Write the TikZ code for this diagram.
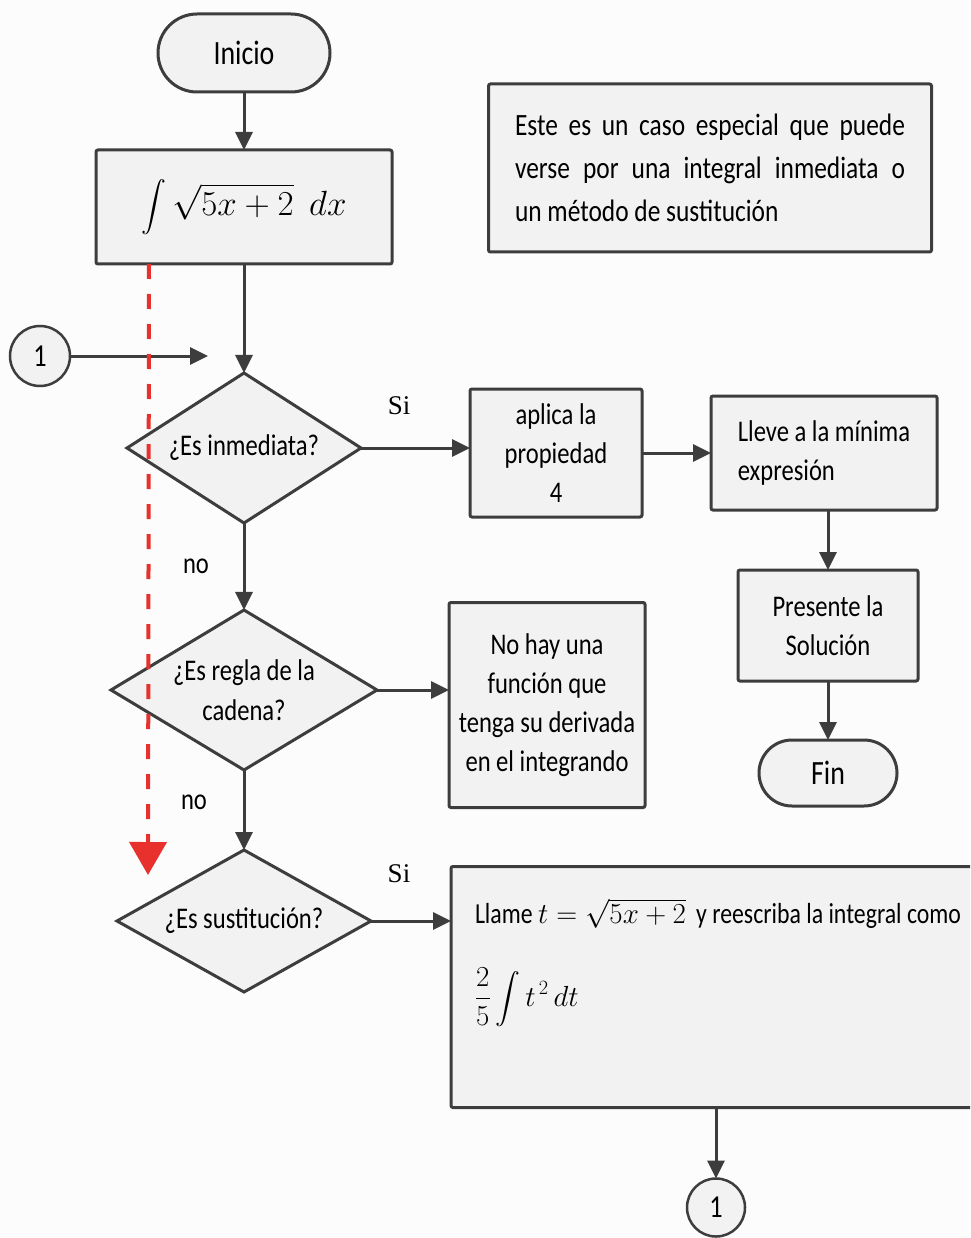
\RequirePackage{fix-cm}
\documentclass[tikz,border=0pt]{standalone}
\usepackage{exscale}
\usepackage[no-math]{fontspec}
\setmainfont[FakeStretch=0.82]{Carlito}
\newfontfamily\serifsi{Liberation Serif}
\usetikzlibrary{arrows.meta,shapes.geometric,positioning,calc}
\definecolor{linea}{HTML}{3D3D3D}
\definecolor{relleno}{HTML}{F2F2F2}
\definecolor{fondo}{HTML}{FCFCFC}
\definecolor{rojo}{HTML}{E8302C}

\begin{document}
\begin{tikzpicture}[x=1pt,y=-1pt,
                     terminal/.style={
                                % The shape:
                                rectangle,inner sep=0pt,outer sep=0pt,
                                % The rest
                                line width=3pt,draw=linea,fill=relleno,
                                font=\fontsize{34}{40}\selectfont},
                     process/.style={
                                rectangle,rounded corners=2pt,inner sep=0pt,outer sep=0pt,align=center,
                                line width=3pt,draw=linea,fill=relleno,
                                font=\fontsize{30}{39}\selectfont},
                     decision/.style={
                                diamond,aspect=1.7,inner sep=0pt,outer sep=0pt,align=center,
                                line width=3pt,draw=linea,fill=relleno,
                                font=\fontsize{30}{40}\selectfont},
                     connector/.style={
                                circle,minimum size=60pt,inner sep=0pt,outer sep=0pt,
                                line width=2.5pt,draw=linea,fill=relleno,
                                font=\fontsize{32}{36}\selectfont},
                     flecha/.style={line width=3pt,draw=linea,
                                -{Triangle[length=18pt,width=17pt]}},
                     rojoflecha/.style={line width=4pt,draw=rojo,
                                dash pattern=on 15pt off 15pt,
                                -{Triangle[length=33pt,width=37pt]}},
                     si/.style={font=\serifsi\fontsize{27}{30}\selectfont},
                     etiq/.style={font=\fontsize{30}{34}\selectfont}]
 \clip (0,0) rectangle (970,1238);
 \fill[fondo] (0,0) rectangle (970,1238);
 % main column
 \node (inicio)  [terminal,rounded corners=39pt,minimum width=172pt,minimum height=78pt] at (244,53) {Inicio};
 \node (integ)   [process,minimum width=296pt,minimum height=114pt,below=58pt of inicio,
                  font=\fontsize{35}{40}\selectfont]
                 {$\displaystyle\int\sqrt{5x+2}\;\,dx$};
 \node (inmed)   [decision,minimum width=234pt,minimum height=150pt,below=109pt of integ] {¿Es inmediata?};
 \node (cadena)  [decision,minimum width=266pt,minimum height=160pt,below=87pt of inmed] {¿Es regla de la\\cadena?};
 \node (sustit)  [decision,minimum width=254pt,minimum height=142pt,below=80pt of cadena] {¿Es sustitución?};
 % right side
 \node (aplica)  [process,minimum width=172pt,minimum height=128pt,right=109pt of inmed,yshift=-5pt]
                 {aplica la\\propiedad\\4};
 \node (lleve)   [process,minimum width=226pt,minimum height=114pt,right=69pt of aplica,
                  align=left] {Lleve a la mínima\\expresión};
 \node (presente)[process,minimum width=180pt,minimum height=111pt,below=60pt of lleve,xshift=4pt] {Presente la\\Solución};
 \node (fin)     [terminal,rounded corners=33pt,minimum width=138pt,minimum height=66pt,below=59pt of presente] {Fin};
 \node (nohay)   [process,minimum width=196pt,minimum height=205pt,right=72pt of cadena,yshift=-15pt]
                 {No hay una\\función que\\tenga su derivada\\en el integrando};
 \node (llame)   [process,minimum width=530pt,right=80pt of sustit,yshift=-66pt,font=\fontsize{29}{34}\selectfont]
                 {\parbox[c][241pt][t]{530pt}{\leftskip=24pt\relax\vspace*{32pt}%
                  Llame $t=\sqrt{5x+2}$\, y reescriba la integral como\\[38pt]
                  $\displaystyle\frac{2}{5}\int t^{\,2}\,dt$}};
 \node (c2)      [connector,minimum size=58pt,below=71pt of llame] {1};
 \node (nota)    [process,minimum width=443pt,minimum height=168pt,text width=390pt,align=justify,
                  font=\fontsize{31}{43}\selectfont] at (710,168)
                 {Este es un caso especial que puede\linebreak verse por una integral inmediata o\linebreak un método de sustitución};
 % connector 1 on the left
 \node (c1)      [connector] at (40,356) {1};
 \coordinate (entrada) at (208,356);
 \coordinate (rojoini) at ([xshift=53pt]integ.south west);
 \coordinate (rojofin) at (148,875);
 % arrows
 \draw[flecha] (inicio) -- (integ);
 \draw[flecha] (integ) -- (inmed);
 \draw[flecha] (c1) -- (entrada);
 \draw[flecha] (inmed.east) -- node[si,pos=.35,yshift=42pt] {Si} (inmed.east -| aplica.west);
 \draw[flecha] (aplica) -- (lleve);
 \draw[flecha] (lleve.south -| presente) -- (presente);
 \draw[flecha] (presente) -- (fin);
 \draw[flecha] (inmed) -- node[etiq,xshift=-48pt] {no} (cadena);
 \draw[flecha] (cadena.east) -- (cadena.east -| nohay.west);
 \draw[flecha] (cadena) -- node[etiq,pos=.4,xshift=-50pt] {no} (sustit);
 \draw[flecha] (sustit.east) -- node[si,pos=.35,yshift=47pt] {Si} (sustit.east -| llame.west);
 \draw[flecha] (llame) -- (c2);
 \draw[rojoflecha] (rojoini) -- (rojofin);
\end{tikzpicture}
\end{document}
